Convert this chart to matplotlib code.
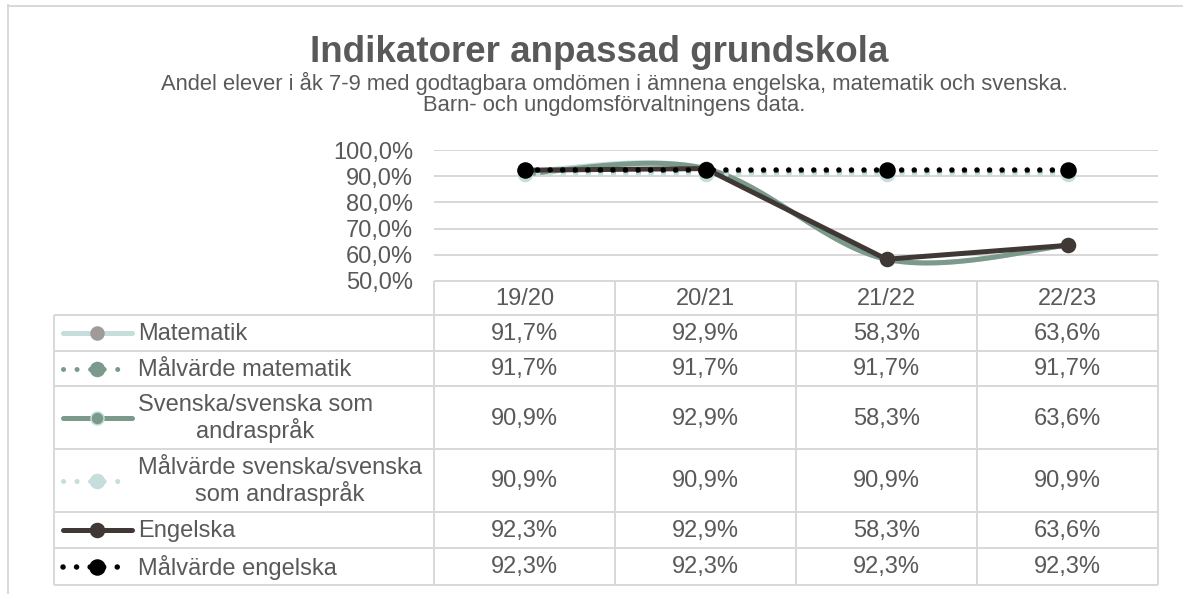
import numpy as np
import matplotlib
matplotlib.use('Agg')
from matplotlib import pyplot as plt

plt.rcParams['font.family'] = ['Liberation Sans', 'DejaVu Sans']

# data
years = ['19/20', '20/21', '21/22', '22/23']
series_names = ['Matematik', 'Målvärde matematik', 'Svenska/svenska som\nandraspråk',
                'Målvärde svenska/svenska\nsom andraspråk', 'Engelska', 'Målvärde engelska']
matematik = [91.7, 92.9, 58.3, 63.6]
mal_matematik = [91.7, 91.7, 91.7, 91.7]
svenska = [90.9, 92.9, 58.3, 63.6]
mal_svenska = [90.9, 90.9, 90.9, 90.9]
engelska = [92.3, 92.9, 58.3, 63.6]
mal_engelska = [92.3, 92.3, 92.3, 92.3]
yticks = [50, 60, 70, 80, 90, 100]

all_values = [matematik, mal_matematik, svenska, mal_svenska, engelska, mal_engelska]

# styles: (color, linewidth px, dotted, marker face, marker edge, marker size px, smooth)
styles = [
    ('#C5DEDB', 5, False, '#A09A9A', '#A09A9A', 13, True),
    ('#7C9A8C', 5, True, '#7C9A8C', '#7C9A8C', 14, False),
    ('#7C9A8C', 5, False, '#7C9A8C', '#C5DEDB', 13, True),
    ('#C5DEDB', 5, True, '#C5DEDB', '#C5DEDB', 14, False),
    ('#403834', 5, False, '#403834', '#403834', 14, False),
    ('#000000', 5.5, True, '#000000', '#000000', 15, False),
]

W, H = 1183, 594
DPI = 100
px = 72.0 / DPI  # points per pixel

TXT = '#595959'
GRID = '#D9D9D9'
FS = 17


def smooth(xs, ys, sx, sy, n=40):
    # bezier smoothing like Excel, computed in screen-like units
    P = np.column_stack([np.array(xs, float) * sx, np.array(ys, float) * sy])
    out = []
    for i in range(len(P) - 1):
        p0 = P[i - 1] if i > 0 else P[i]
        p1 = P[i]
        p2 = P[i + 1]
        p3 = P[i + 2] if i + 2 < len(P) else P[i + 1]
        c1 = p1 + (p2 - p0) / 6.0
        c2 = p2 - (p3 - p1) / 6.0
        t = np.linspace(0, 1, n)[:, None]
        seg = ((1 - t) ** 3) * p1 + 3 * ((1 - t) ** 2) * t * c1 + 3 * (1 - t) * t ** 2 * c2 + t ** 3 * p2
        out.append(seg)
    c = np.vstack(out)
    return c[:, 0] / sx, c[:, 1] / sy


fig = plt.figure(figsize=(W / DPI, H / DPI), dpi=DPI)

# overlay in pixel coordinates for frame, titles and data table
ov = fig.add_axes([0, 0, 1, 1], zorder=0)
ov.set_xlim(0, W)
ov.set_ylim(H, 0)
ov.axis('off')

# chart frame (left and top only visible)
ov.plot([8, W], [5.5, 5.5], color=GRID, lw=2 * px)
ov.plot([8.5, 8.5], [5, H], color=GRID, lw=2 * px)

ov.text(599, 53, 'Indikatorer anpassad grundskola', ha='center', va='center',
        fontsize=26.5, fontweight='bold', color=TXT)
ov.text(614, 83, 'Andel elever i åk 7-9 med godtagbara omdömen i ämnena engelska, matematik och svenska.',
        ha='center', va='center', fontsize=15.8, color=TXT)
ov.text(614, 106, 'Barn- och ungdomsförvaltningens data.', ha='center', va='center',
        fontsize=15.8, color=TXT)

# plot area
x0, x1 = 434, 1158
y_top, y_bot = 150, 281
ax = fig.add_axes([x0 / W, 1 - y_bot / H, (x1 - x0) / W, (y_bot - y_top) / H], zorder=2)
ax.patch.set_alpha(0)
ax.set_xlim(-0.5, len(years) - 0.5)
ax.set_ylim(50, 100)
ax.set_yticks(yticks)
ax.set_yticklabels([f'{v:.1f}%'.replace('.', ',') for v in yticks])
ax.tick_params(axis='y', length=0, pad=21 * px, labelsize=FS, labelcolor=TXT)
ax.set_xticks([])
for s in ax.spines.values():
    s.set_visible(False)
for v in yticks[1:]:
    ax.axhline(v, color=GRID, lw=2 * px, zorder=0)

xs = np.arange(len(years))
sx = (x1 - x0) / len(years)
sy = (y_bot - y_top) / 50.0
for vals, st in zip(all_values, styles):
    col, lw, dotted, mfc, mec, ms, sm = st
    if sm:
        cx, cy = smooth(xs, vals, sx, sy)
    else:
        cx, cy = xs, vals
    if dotted:
        ax.plot(cx, cy, color=col, lw=lw * px, ls=(0, (0.01, 12.5 / lw)), dash_capstyle='round', zorder=3)
    else:
        ax.plot(cx, cy, color=col, lw=lw * px, solid_capstyle='round', zorder=3)
    ax.plot(xs, vals, ls='none', marker='o', ms=ms * px, mfc=mfc, mec=mec, mew=1.5 * px, zorder=4)

# data table
col_edges = [x0 + i * sx for i in range(len(years) + 1)]
row_edges = [281, 315, 351, 386, 449, 512, 548, 585]
tl = 54  # left edge of legend column


def hline(y, xa, xb):
    ov.plot([xa, xb], [y, y], color=GRID, lw=2 * px, solid_capstyle='butt')


def vline(x, ya, yb):
    ov.plot([x, x], [ya, yb], color=GRID, lw=2 * px, solid_capstyle='butt')


hline(row_edges[0], x0, x1)
for y in row_edges[1:]:
    hline(y, tl, x1)
vline(tl, row_edges[1], row_edges[-1])
for x in col_edges:
    vline(x, row_edges[0], row_edges[-1])

for i, yr in enumerate(years):
    ov.text((col_edges[i] + col_edges[i + 1]) / 2, (row_edges[0] + row_edges[1]) / 2 + 1, yr,
            ha='center', va='center', fontsize=FS, color=TXT)

for r, (name, vals, st) in enumerate(zip(series_names, all_values, styles)):
    yc = (row_edges[r + 1] + row_edges[r + 2]) / 2
    col, lw, dotted, mfc, mec, ms, sm = st
    # legend key
    if dotted:
        ov.plot([63, 127], [yc, yc], color=col, lw=lw * px, ls=(0, (0.01, 13.5 / lw)), dash_capstyle='round')
    else:
        ov.plot([63, 132], [yc, yc], color=col, lw=lw * px, solid_capstyle='round')
    ov.plot([97], [yc], ls='none', marker='o', ms=ms * px, mfc=mfc, mec=mec, mew=1.5 * px)
    ov.text(138, yc + 1, name, ha='left', va='center', multialignment='center',
            fontsize=FS, color=TXT, linespacing=1.12)
    for i, v in enumerate(vals):
        ov.text((col_edges[i] + col_edges[i + 1]) / 2, yc + 1, f'{v:.1f}%'.replace('.', ','),
                ha='center', va='center', fontsize=FS, color=TXT)

fig.savefig('out.png', dpi=DPI)
